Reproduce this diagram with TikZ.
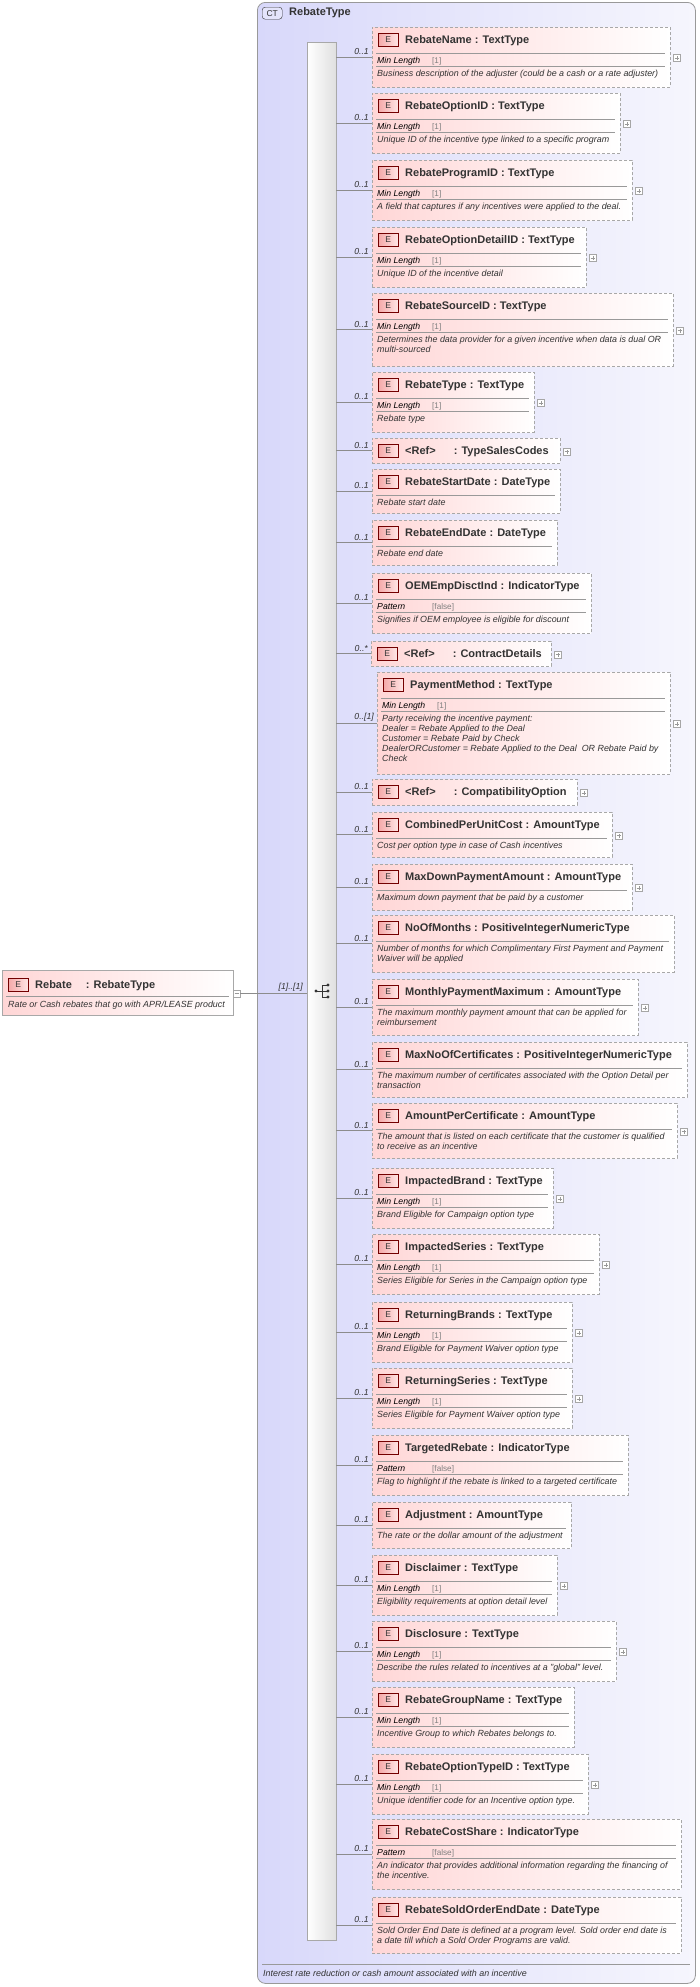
\documentclass[tikz,border=0pt]{standalone}
\usepackage{fontspec}
\setmainfont{Liberation Sans}
\definecolor{ttl}{HTML}{333333}
\definecolor{pinkL}{HTML}{FFD6D6}
\definecolor{lav}{HTML}{D8D8FA}
\definecolor{lavR}{HTML}{F6F6FD}
\definecolor{bd}{HTML}{A8A8A8}
\definecolor{badge}{HTML}{F4A8A8}
\tikzset{
 ebox/.style={draw=bd, dash pattern=on 3pt off 2pt, left color=pinkL, right color=white, inner sep=0, outer sep=0, anchor=north west},
 rootbox/.style={draw=bd, left color=pinkL, right color=white, inner sep=0, outer sep=0, anchor=north west},
 ebadge/.style={draw=red!45!black, left color=badge, right color=red!10, minimum width=20pt, minimum height=13pt, inner sep=0, font=\fontsize{8.5}{8.5}\selectfont, text=ttl, anchor=north west},
 etitle/.style={font=\fontsize{11}{12}\selectfont\bfseries, text=ttl, inner sep=0, anchor=base west},
 desc/.style={font=\fontsize{8.9}{10}\selectfont\itshape, text=ttl, align=left, inner sep=0, anchor=north west},
 facet/.style={font=\fontsize{8.7}{9}\selectfont\itshape, text=black, inner sep=0, anchor=base west},
 fval/.style={font=\fontsize{8.2}{9}\selectfont, text=gray, inner sep=0, anchor=base west},
 mult/.style={font=\fontsize{8.7}{9}\selectfont\itshape, text=ttl, inner sep=0, anchor=south east},
 sepline/.style={draw=gray!80, line width=0.5pt},
 conn/.style={draw=gray!90, line width=0.5pt},
 plusbox/.style={draw=gray!70, fill=white, minimum size=7pt, inner sep=0, anchor=west,
   path picture={\draw[gray!80] ([xshift=1.5pt]path picture bounding box.west)--([xshift=-1.5pt]path picture bounding box.east);
   \ifnum\pluson=1 \draw[gray!80] ([yshift=1.5pt]path picture bounding box.south)--([yshift=-1.5pt]path picture bounding box.north);\fi}},
}
\def\pluson{1}
\newcommand\elem[9]{%
 \node[ebox, minimum width={(#4-#2)*1pt}, minimum height={(#5-#3)*1pt}] (#1) at (#2,#3) {};
 \node[ebadge] at ([shift={(6,6)}]#1.north west) {E};
 \node[etitle] at ([shift={(33,16)}]#1.north west) {#6};
 \draw[sepline] ([shift={(4,26)}]#1.north west) -- ([shift={(-5,26)}]#1.north east);
 \if\relax\detokenize{#7}\relax
   \node[desc] at ([shift={(5,30)}]#1.north west) {#9};
 \else
   \node[facet] at ([shift={(5,36)}]#1.north west) {#7};
   \node[fval] at ([shift={(60,36)}]#1.north west) {#8};
   \draw[sepline] ([shift={(4,39)}]#1.north west) -- ([shift={(-5,39)}]#1.north east);
   \node[desc] at ([shift={(5,43)}]#1.north west) {#9};
 \fi}
\newcommand\refel[6]{%
 \node[ebox, minimum width={(#4-#2)*1pt}, minimum height={(#5-#3)*1pt}] (#1) at (#2,#3) {};
 \node[ebadge] at ([shift={(6,6)}]#1.north west) {E};
 \node[etitle] at ([shift={(33,16)}]#1.north west) {<Ref>\hspace{18pt}: #6};}
\newcommand\pls[1]{\node[plusbox] at ([shift={(3,1)}]#1.east) {};}
\begin{document}
\begin{tikzpicture}[x=1pt,y=-1pt]
\useasboundingbox (0,0) rectangle (699,1987);
% outer complex type
\node[draw=gray!80, rounded corners=8pt, left color=lav, right color=lavR, minimum width=438pt, minimum height=1981pt, anchor=north west, inner sep=0, line width=0.8pt] (ct) at (257,2) {};
\node[draw=ttl, fill=lav!70, rounded corners=3pt, minimum width=20pt, minimum height=12pt, inner sep=0, font=\fontsize{8.5}{8.5}\selectfont, text=ttl, anchor=north west] (ctb) at (262,7) {CT};
\node[etitle, anchor=west] (ctt) at (289,13) {RebateType};
\draw[sepline] (262,1964) -- (690,1964);
\node[desc, anchor=base west] (ctd) at (263,1976) {Interest rate reduction or cash amount associated with an incentive};
% sequence bar
\node[draw=bd, left color=white, right color=gray!25, minimum width=29pt, minimum height=1898pt, anchor=north west, inner sep=0] (seq) at (307,42) {};
% root
\node[rootbox, minimum width=231pt, minimum height=45pt] (root) at (2,970) {};
\node[ebadge] at ([shift={(6,8)}]root.north west) {E};
\node[etitle] at ([shift={(33,18)}]root.north west) {Rebate\hspace{14pt}: RebateType};
\draw[sepline] ([shift={(4,26)}]root.north west) -- ([shift={(-4,26)}]root.north east);
\node[desc, anchor=base west] at ([shift={(6,37)}]root.north west) {Rate or Cash rebates that go with APR/LEASE product};
\def\pluson{0}
\node[plusbox] (rm) at ([shift={(0,1)}]root.east) {};
\def\pluson{1}
\draw[conn] (rm.east) -- (rm.east -| seq.west);
\node[mult] at ([shift={(-4,-2)}]rm.east -| seq.west) {[1]..[1]};
% sequence icon
\coordinate (si) at (322,991);
\fill[ttl] ([xshift=-6pt]si) circle (1.6pt);
\draw[ttl, line width=0.7pt] ([xshift=-6pt]si) -- (si) ([yshift=6pt]si) -- ([yshift=-6pt]si) ([yshift=6pt]si) -- ++(6,0) (si) -- ++(6,0) ([yshift=-6pt]si) -- ++(6,0);
\fill[ttl] ([shift={(6,-6)}]si) circle (1.6pt) ([shift={(6,0)}]si) circle (1.6pt) ([shift={(6,6)}]si) circle (1.6pt);
% elements
\elem{e1}{372}{27}{670}{87}{RebateName : TextType}{Min Length}{[1]}{Business description of the adjuster (could be a cash or a rate adjuster)}
\elem{e2}{372}{93}{620}{153}{RebateOptionID : TextType}{Min Length}{[1]}{Unique ID of the incentive type linked to a specific program}
\elem{e3}{372}{160}{632}{220}{RebateProgramID : TextType}{Min Length}{[1]}{A field that captures if any incentives were applied to the deal.}
\elem{e4}{372}{227}{586}{287}{RebateOptionDetailID : TextType}{Min Length}{[1]}{Unique ID of the incentive detail}
\elem{e5}{372}{293}{673}{366}{RebateSourceID : TextType}{Min Length}{[1]}{Determines the data provider for a given incentive when data is dual OR\\multi-sourced}
\elem{e6}{372}{372}{534}{432}{RebateType : TextType}{Min Length}{[1]}{Rebate type}
\refel{r7}{372}{438}{560}{463}{TypeSalesCodes}
\elem{e8}{372}{469}{560}{513}{RebateStartDate : DateType}{}{}{Rebate start date}
\elem{e9}{372}{520}{557}{565}{RebateEndDate : DateType}{}{}{Rebate end date}
\elem{e10}{372}{573}{591}{633}{OEMEmpDisctInd : IndicatorType}{Pattern}{[false]}{Signifies if OEM employee is eligible for discount}
\refel{r11}{371}{641}{551}{666}{ContractDetails}
\elem{e12}{377}{672}{670}{774}{PaymentMethod : TextType}{Min Length}{[1]}{Party receiving the incentive payment:\\Dealer = Rebate Applied to the Deal\\Customer = Rebate Paid by Check\\DealerORCustomer = Rebate Applied to the Deal\ \ OR Rebate Paid by\\Check}
\refel{r13}{372}{779}{577}{805}{CompatibilityOption}
\elem{e14}{372}{812}{612}{857}{CombinedPerUnitCost : AmountType}{}{}{Cost per option type in case of Cash incentives}
\elem{e15}{372}{864}{632}{910}{MaxDownPaymentAmount : AmountType}{}{}{Maximum down payment that be paid by a customer}
\elem{e16}{372}{915}{674}{972}{NoOfMonths : PositiveIntegerNumericType}{}{}{Number of months for which Complimentary First Payment and Payment\\Waiver will be applied}
\elem{e17}{372}{979}{638}{1035}{MonthlyPaymentMaximum : AmountType}{}{}{The maximum monthly payment amount that can be applied for\\reimbursement}
\elem{e18}{372}{1042}{687}{1097}{MaxNoOfCertificates : PositiveIntegerNumericType}{}{}{The maximum number of certificates associated with the Option Detail per\\transaction}
\elem{e19}{372}{1103}{677}{1158}{AmountPerCertificate : AmountType}{}{}{The amount that is listed on each certificate that the customer is qualified\\to receive as an incentive}
\elem{e20}{372}{1168}{553}{1228}{ImpactedBrand : TextType}{Min Length}{[1]}{Brand Eligible for Campaign option type}
\elem{e21}{372}{1234}{599}{1294}{ImpactedSeries : TextType}{Min Length}{[1]}{Series Eligible for Series in the Campaign option type}
\elem{e22}{372}{1302}{572}{1362}{ReturningBrands : TextType}{Min Length}{[1]}{Brand Eligible for Payment Waiver option type}
\elem{e23}{372}{1368}{572}{1428}{ReturningSeries : TextType}{Min Length}{[1]}{Series Eligible for Payment Waiver option type}
\elem{e24}{372}{1435}{628}{1495}{TargetedRebate : IndicatorType}{Pattern}{[false]}{Flag to highlight if the rebate is linked to a targeted certificate}
\elem{e25}{372}{1502}{571}{1548}{Adjustment : AmountType}{}{}{The rate or the dollar amount of the adjustment}
\elem{e26}{372}{1555}{557}{1615}{Disclaimer : TextType}{Min Length}{[1]}{Eligibility requirements at option detail level}
\elem{e27}{372}{1621}{616}{1681}{Disclosure : TextType}{Min Length}{[1]}{Describe the rules related to incentives at a "global" level.}
\elem{e28}{372}{1687}{574}{1747}{RebateGroupName : TextType}{Min Length}{[1]}{Incentive Group to which Rebates belongs to.}
\elem{e29}{372}{1754}{588}{1814}{RebateOptionTypeID : TextType}{Min Length}{[1]}{Unique identifier code for an Incentive option type.}
\elem{e30}{372}{1819}{681}{1889}{RebateCostShare : IndicatorType}{Pattern}{[false]}{An indicator that provides additional information regarding the financing of\\the incentive.}
\elem{e31}{372}{1897}{681}{1953}{RebateSoldOrderEndDate : DateType}{}{}{Sold Order End Date is defined at a program level. Sold order end date is\\a date till which a Sold Order Programs are valid.}
% plus boxes
\foreach \n in {e1,e2,e3,e4,e5,e6,r7,r11,e12,r13,e14,e15,e17,e19,e20,e21,e22,e23,e26,e27,e29}{\pls{\n}}
% connectors
\foreach \n/\m in {e1/0..1,e2/0..1,e3/0..1,e4/0..1,e5/0..1,e6/0..1,r7/0..1,e8/0..1,e9/0..1,e10/0..1,r11/0..*,e12/0..[1],r13/0..1,e14/0..1,e15/0..1,e16/0..1,e17/0..1,e18/0..1,e19/0..1,e20/0..1,e21/0..1,e22/0..1,e23/0..1,e24/0..1,e25/0..1,e26/0..1,e27/0..1,e28/0..1,e29/0..1,e30/0..1,e31/0..1}{
  \draw[conn] (\n.west -| seq.east) -- (\n.west);
  \node[mult] at ([shift={(-3,-2)}]\n.west) {\m};
}
\end{tikzpicture}
\end{document}
